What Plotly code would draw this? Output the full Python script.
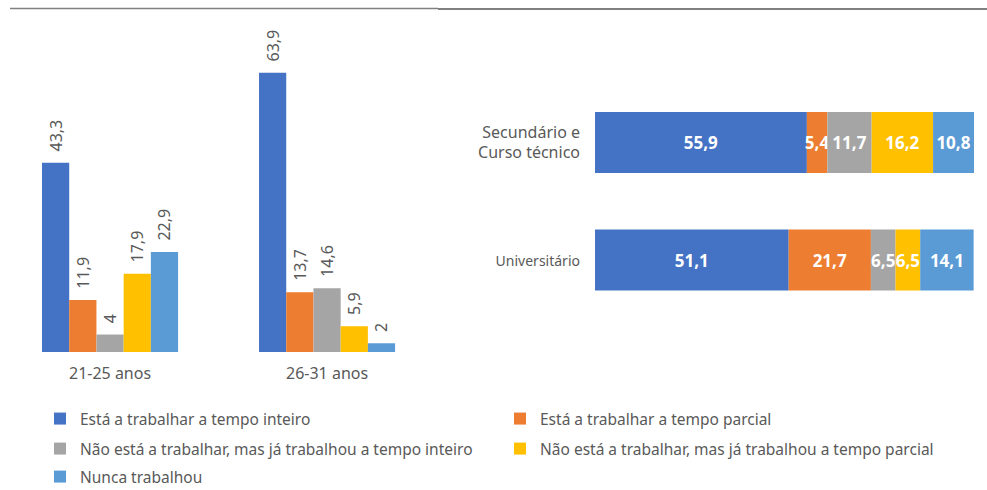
import plotly.graph_objects as go
from plotly.subplots import make_subplots

# dados
series = [
    "Está a trabalhar a tempo inteiro",
    "Está a trabalhar a tempo parcial",
    "Não está a trabalhar, mas já trabalhou a tempo inteiro",
    "Não está a trabalhar, mas já trabalhou a tempo parcial",
    "Nunca trabalhou",
]
cores = ["#4472C4", "#ED7D31", "#A5A5A5", "#FFC000", "#5B9BD5"]

idades = ["21-25 anos", "26-31 anos"]
idade_vals = [
    [43.3, 63.9],
    [11.9, 13.7],
    [4, 14.6],
    [17.9, 5.9],
    [22.9, 2],
]

escolaridade = ["Universitário", "Secundário e<br>Curso técnico"]
escolaridade_labels = ["<span style='font-size:14px'>Universitário</span>",
                       "Secundário e<br>Curso técnico"]
escol_vals = [
    [51.1, 55.9],
    [21.7, 5.4],
    [6.5, 11.7],
    [6.5, 16.2],
    [14.1, 10.8],
]


def fmt(v):
    return f"{v:g}".replace(".", ",")


W = 987.0
H = 490.0


def px(x):
    return x / W


def py(y):
    return (H - y) / H


fig = make_subplots(rows=1, cols=2)
legendas = ["legend", "legend", "legend2", "legend2", "legend3"]

base = [0, 0]
for i, nome in enumerate(series):
    fig.add_trace(go.Bar(
        x=idades, y=idade_vals[i], name=nome,
        marker=dict(color=cores[i], line=dict(width=0)),
        text=["\u00a0\u00a0" + fmt(v) for v in idade_vals[i]],
        textposition="outside", textangle=-90, constraintext="none",
        textfont=dict(color="#595959", size=16), cliponaxis=False,
        legend=legendas[i], showlegend=True,
    ), row=1, col=1)
    fig.add_trace(go.Bar(
        y=escolaridade, x=escol_vals[i], base=list(base), orientation="h",
        name=nome, offsetgroup="stack", width=0.52,
        marker=dict(color=cores[i], line=dict(width=0)),
        text=[fmt(v) for v in escol_vals[i]],
        textposition="inside", insidetextanchor="middle", textangle=0,
        constraintext="none",
        textfont=dict(color="white", size=17, family="Noto Sans", weight="bold"),
        showlegend=False,
    ), row=1, col=2)
    base = [b + v for b, v in zip(base, escol_vals[i])]

fig.update_layout(
    width=987, height=490,
    margin=dict(l=0, r=0, t=0, b=0, autoexpand=False),
    plot_bgcolor="white", paper_bgcolor="white",
    font=dict(family="Noto Sans", color="#595959", size=16),
    barmode="group", bargap=0.373, bargroupgap=0,
    xaxis=dict(domain=[px(10), px(436)], range=[-0.461, 1.502],
               showgrid=False, showline=False, automargin=False,
               ticks="", ticklabelstandoff=10, tickfont=dict(size=16)),
    yaxis=dict(domain=[py(352), py(30)], range=[0, 73.7], visible=False),
    xaxis2=dict(domain=[px(595), px(974)], range=[0, 100], visible=False),
    yaxis2=dict(domain=[py(318.75), py(83.75)], range=[-0.5, 1.5],
                showgrid=False, showline=False, ticks="", automargin=False,
                tickvals=escolaridade, ticktext=escolaridade_labels,
                ticklabelstandoff=14, tickfont=dict(size=16)),
    shapes=[
        dict(type="line", xref="paper", yref="paper", x0=px(10), x1=px(438),
             y0=py(8.5), y1=py(8.5), line=dict(color="#808080", width=1.3)),
        dict(type="line", xref="paper", yref="paper", x0=px(438), x1=1,
             y0=py(9), y1=py(9), line=dict(color="#808080", width=2)),
    ],
)
for nome, yy in [("legend", 419), ("legend2", 449), ("legend3", 477)]:
    fig.update_layout({nome: dict(
        orientation="h", x=px(40), xanchor="left", y=py(yy),
        yanchor="middle", entrywidth=415, entrywidthmode="pixels",
        font=dict(size=15.5, color="#595959"), bgcolor="rgba(0,0,0,0)",
        itemwidth=30, traceorder="normal",
    )})

fig.write_html("out.html", config={"displayModeBar": False},
               post_script="document.body.style.margin='0';"
                           "document.body.style.overflow='hidden';")
